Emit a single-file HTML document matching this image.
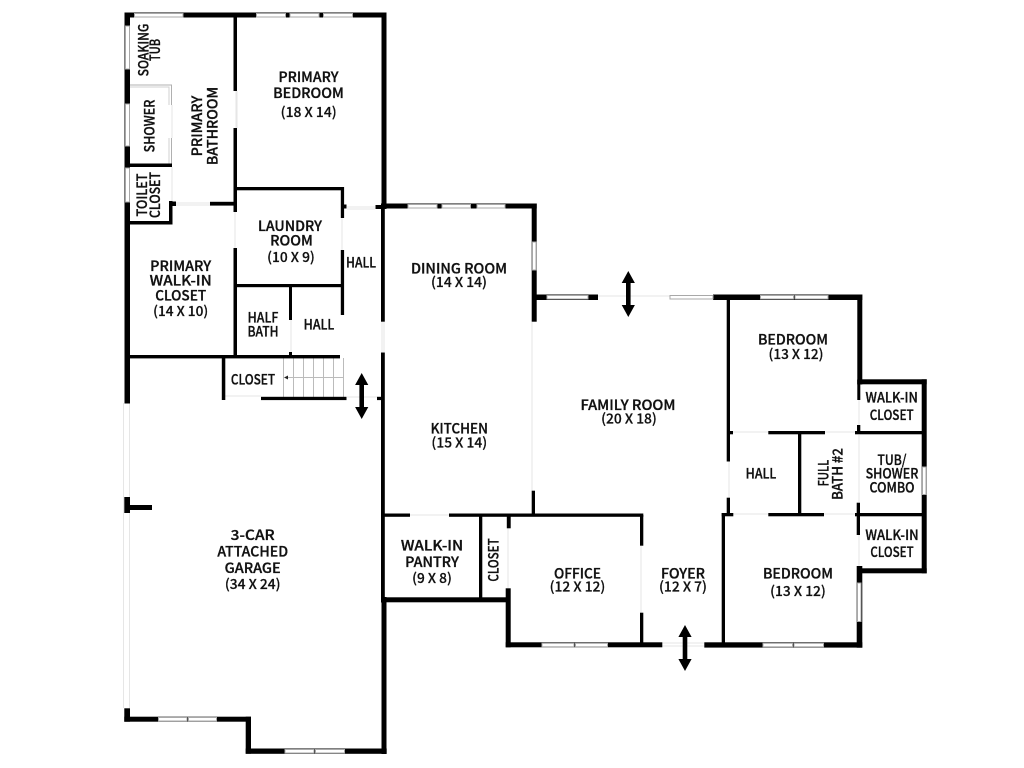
<!DOCTYPE html>
<html><head><meta charset="utf-8"><style>
html,body{margin:0;padding:0;background:#fff;width:1024px;height:768px;overflow:hidden}
svg{display:block}
text{font-family:"Noto Sans CJK JP","Liberation Sans",sans-serif;font-weight:500;font-size:14px;fill:#111;stroke:#111;stroke-width:.32px;text-anchor:middle}
.d{font-size:13.6px;stroke-width:.22px}
.w{fill:#fff;stroke:#a8a8a8;stroke-width:1}
.g{stroke:#e6e6e6;stroke-width:1;fill:none}
.s{stroke:#bbb;stroke-width:1;fill:none}
</style></head><body>
<svg width="1024" height="768" viewBox="0 0 1024 768" xmlns="http://www.w3.org/2000/svg">
<!-- faint door/opening lines -->
<g class="g">
<path d="M236 91V128M237 91V128M235 212V248M342 218V250M176 203H210M176 205H210M347 207H375M347 209H375"/>
<path d="M291 320V352M382 322V352M384 322V352M225 396H261M347 397H377"/>
<path d="M532 322V491M598 296H670M410 515H449"/>
<path d="M123.500 403V708M129.500 403V708"/>
<path d="M729 461V498M733 432H768M825 432H855M733 514H768M824 514H855M859 400V425M859 435V502M859 535V566"/>
<path d="M508 528V588M641 546V613M662 643H704M662 646H704"/>
<path d="M172 167V201M172 105V138"/>
</g>
<!-- stairs -->
<g class="s">
<path d="M283.500 358V397M293.500 358V397M303.500 358V397M313.500 358V397M323.500 358V397M333.500 358V397M343.500 358V397M286 377.500H343.500"/>
</g>
<polygon points="284,377.500 288,375.500 288,379.500" fill="#222"/>
<!-- shower -->
<g fill="#b0b0b0">
<rect x="130" y="84.500" width="42" height="1"/>
<rect x="130" y="86.500" width="39" height="1" fill="#d0d0d0"/>
<rect x="171" y="84.500" width="1" height="20.500"/>
<rect x="168.500" y="86.500" width="1" height="18.500" fill="#d0d0d0"/>
<rect x="168.500" y="138" width="1" height="26" fill="#d0d0d0"/>
<rect x="171" y="138" width="1" height="26"/>
</g>
<!-- walls -->
<g fill="#000">
<rect x="124.500" y="12.500" width="262" height="5"/>
<rect x="124.500" y="12.500" width="5.500" height="391"/>
<rect x="381.500" y="12.500" width="5" height="193"/>
<rect x="233.500" y="12.500" width="3.500" height="78.500"/>
<rect x="233.500" y="128" width="3.500" height="84"/>
<rect x="233.500" y="248" width="3.500" height="110"/>
<rect x="130" y="163.500" width="42" height="3.500"/>
<rect x="169" y="201" width="3.500" height="23"/>
<rect x="130" y="221" width="42.500" height="3.500"/>
<rect x="172" y="201.500" width="4" height="4.500"/>
<rect x="210" y="201.800" width="23.500" height="3.800"/>
<rect x="233.500" y="187" width="110.500" height="3.300"/>
<rect x="340.800" y="187" width="3.300" height="31"/>
<rect x="340.800" y="250" width="3.300" height="65"/>
<rect x="233.500" y="284" width="110" height="3.200"/>
<rect x="289" y="284" width="3" height="36"/>
<rect x="289" y="352" width="3" height="5"/>
<rect x="130" y="355" width="210" height="3.400"/>
<rect x="221.800" y="355" width="3.500" height="45"/>
<rect x="261" y="396.800" width="85.500" height="3.300"/>
<rect x="343" y="204.500" width="3.500" height="4"/>
<rect x="375.500" y="205" width="11" height="4"/>
<!-- central vertical -->
<rect x="381" y="203.500" width="3.800" height="118.200"/>
<rect x="381" y="352.500" width="3.800" height="250"/>
<rect x="381.500" y="597" width="5" height="157"/>
<rect x="377" y="396.800" width="6" height="3.300"/>
<!-- dining -->
<rect x="381" y="203.500" width="155.700" height="5"/>
<rect x="531.700" y="203.500" width="5" height="118.200"/>
<rect x="536" y="294.500" width="62" height="5.500"/>
<!-- kitchen/pantry -->
<rect x="381" y="513.500" width="29" height="3.300"/>
<rect x="449" y="513.500" width="194.300" height="3.300"/>
<rect x="531.700" y="490.700" width="3.300" height="24"/>
<rect x="479" y="515" width="3.300" height="83"/>
<rect x="381" y="597.300" width="129" height="5"/>
<rect x="506.800" y="515" width="3.900" height="13.300"/>
<rect x="505.700" y="588.300" width="5" height="59"/>
<rect x="640" y="515" width="3.300" height="30.700"/>
<rect x="640" y="612.700" width="3.300" height="31"/>
<rect x="505.700" y="642.300" width="156.600" height="5"/>
<!-- right wing -->
<rect x="713" y="294.500" width="149.300" height="5.500"/>
<rect x="726.700" y="294.500" width="3.300" height="167"/>
<rect x="726.700" y="497.700" width="3.300" height="17"/>
<rect x="857.300" y="294.500" width="5" height="90"/>
<rect x="857.300" y="380" width="3" height="20"/>
<rect x="857.300" y="379.300" width="69.400" height="5"/>
<rect x="921.700" y="379.300" width="5" height="194"/>
<rect x="857" y="568.300" width="69.700" height="5"/>
<rect x="727" y="431" width="6" height="3.300"/>
<rect x="768.300" y="431" width="56.700" height="3.300"/>
<rect x="855" y="431" width="68" height="3.300"/>
<rect x="857" y="425" width="3.300" height="9"/>
<rect x="798" y="431" width="3.300" height="84"/>
<rect x="721.700" y="513" width="11.600" height="3.300"/>
<rect x="768.300" y="513" width="55.700" height="3.300"/>
<rect x="855" y="513" width="68" height="3.300"/>
<rect x="856.700" y="502.700" width="3.300" height="32.300"/>
<rect x="856.700" y="566" width="5.600" height="81.700"/>
<rect x="721.700" y="513" width="3.300" height="131"/>
<rect x="704.300" y="642.300" width="158" height="5.300"/>
<!-- garage -->
<rect x="124.300" y="497" width="5.700" height="16"/>
<rect x="130" y="505" width="22" height="5"/>
<rect x="124.300" y="708.300" width="5.700" height="13.400"/>
<rect x="124.300" y="716.700" width="126.700" height="5"/>
<rect x="245.700" y="716.700" width="5.300" height="37"/>
<rect x="245.700" y="748.500" width="141" height="5.300"/>
</g>
<!-- windows -->
<g class="w">
<rect x="134.500" y="13.500" width="48.500" height="3.500"/>
<rect x="256.500" y="13.500" width="29" height="3.500"/><rect x="290" y="13.500" width="29" height="3.500"/><rect x="323.500" y="13.500" width="29" height="3.500"/>
<rect x="125.500" y="26" width="4" height="43"/>
<rect x="125.500" y="104" width="4" height="42"/>
<rect x="125.500" y="168" width="4" height="34"/>
<rect x="408" y="204.500" width="29" height="3.500"/><rect x="442" y="204.500" width="28.500" height="3.500"/><rect x="477" y="204.500" width="28" height="3.500"/>
<rect x="532.500" y="242" width="3.500" height="28"/>
<rect x="547" y="295.500" width="41" height="3.500"/>
<rect x="670" y="295.500" width="43" height="3.500"/>
<rect x="760.500" y="295.500" width="33" height="3.500"/><rect x="795" y="295.500" width="33" height="3.500"/>
<rect x="922.500" y="467" width="3.500" height="27.500"/>
<rect x="857.500" y="583" width="3.500" height="38.500"/>
<rect x="763" y="643.300" width="29.500" height="3.500"/><rect x="794" y="643.300" width="29.500" height="3.500"/>
<rect x="542" y="643.300" width="32" height="3.500"/><rect x="575.500" y="643.300" width="32" height="3.500"/>
<rect x="158.500" y="717.500" width="28.500" height="3.500"/><rect x="188.500" y="717.500" width="28" height="3.500"/>
<rect x="285" y="749.500" width="29" height="3.500"/><rect x="315.500" y="749.500" width="29" height="3.500"/>
</g>
<!-- arrows -->
<g fill="#000">
<polygon points="361.700,373 368.300,385 364,385 364,407 368.300,407 361.700,419 355.100,407 359.400,407 359.400,385 355.100,385"/>
<polygon points="628.300,271 634.900,283 630.600,283 630.600,305 634.900,305 628.300,317 621.700,305 626,305 626,283 621.700,283"/>
<polygon points="685,625 691.600,637 687.300,637 687.300,659 691.600,659 685,671 678.400,659 682.700,659 682.700,637 678.400,637"/>
</g>
<!-- labels -->
<g lengthAdjust="spacingAndGlyphs">
<text lengthAdjust="spacingAndGlyphs" textLength="60" x="308.500" y="82">PRIMARY</text><text lengthAdjust="spacingAndGlyphs" textLength="70.700" x="308.500" y="98">BEDROOM</text><text lengthAdjust="spacingAndGlyphs" textLength="56" class="d" x="308.700" y="117">(18 X 14)</text>
<text lengthAdjust="spacingAndGlyphs" textLength="52.700" transform="translate(148.300 50) rotate(-90)">SOAKING</text><text lengthAdjust="spacingAndGlyphs" textLength="22.300" transform="translate(160 50) rotate(-90)">TUB</text>
<text lengthAdjust="spacingAndGlyphs" textLength="52.700" transform="translate(154.300 126) rotate(-90)">SHOWER</text>
<text lengthAdjust="spacingAndGlyphs" textLength="60.700" transform="translate(202 126) rotate(-90)">PRIMARY</text><text lengthAdjust="spacingAndGlyphs" textLength="78.300" transform="translate(217.500 126) rotate(-90)">BATHROOM</text>
<text lengthAdjust="spacingAndGlyphs" textLength="43" transform="translate(147 195) rotate(-90)">TOILET</text><text lengthAdjust="spacingAndGlyphs" textLength="46" transform="translate(160 195) rotate(-90)">CLOSET</text>
<text lengthAdjust="spacingAndGlyphs" textLength="64" x="290" y="231">LAUNDRY</text><text lengthAdjust="spacingAndGlyphs" textLength="42.700" x="291.500" y="245.500">ROOM</text><text lengthAdjust="spacingAndGlyphs" textLength="47.700" class="d" x="291" y="262">(10 X 9)</text>
<text lengthAdjust="spacingAndGlyphs" textLength="30" x="361" y="267.500">HALL</text>
<text lengthAdjust="spacingAndGlyphs" textLength="61" x="180.700" y="271">PRIMARY</text><text lengthAdjust="spacingAndGlyphs" textLength="62" x="180.700" y="285.700">WALK-IN</text><text lengthAdjust="spacingAndGlyphs" textLength="51" x="180.700" y="300.500">CLOSET</text><text lengthAdjust="spacingAndGlyphs" textLength="55" class="d" x="180.700" y="316">(14 X 10)</text>
<text lengthAdjust="spacingAndGlyphs" textLength="30.700" x="263" y="322.300">HALF</text><text lengthAdjust="spacingAndGlyphs" textLength="31" x="263" y="336.700">BATH</text>
<text lengthAdjust="spacingAndGlyphs" textLength="30.700" x="319" y="329.300">HALL</text>
<text lengthAdjust="spacingAndGlyphs" textLength="44.300" x="253" y="384.300">CLOSET</text>
<text lengthAdjust="spacingAndGlyphs" textLength="96" x="459" y="273.300">DINING ROOM</text><text lengthAdjust="spacingAndGlyphs" textLength="56" class="d" x="459" y="287">(14 X 14)</text>
<text lengthAdjust="spacingAndGlyphs" textLength="57.300" x="459.300" y="433.300">KITCHEN</text><text lengthAdjust="spacingAndGlyphs" textLength="55.700" class="d" x="459.300" y="447.300">(15 X 14)</text>
<text lengthAdjust="spacingAndGlyphs" textLength="95" x="628" y="410">FAMILY ROOM</text><text lengthAdjust="spacingAndGlyphs" textLength="55.700" class="d" x="629" y="423.300">(20 X 18)</text>
<text lengthAdjust="spacingAndGlyphs" textLength="70" x="793" y="344.300">BEDROOM</text><text lengthAdjust="spacingAndGlyphs" textLength="55" class="d" x="796" y="359">(13 X 12)</text>
<text lengthAdjust="spacingAndGlyphs" textLength="52.300" x="891.700" y="402.700">WALK-IN</text><text lengthAdjust="spacingAndGlyphs" textLength="44" x="891.700" y="420">CLOSET</text>
<text lengthAdjust="spacingAndGlyphs" textLength="29" x="892" y="465">TUB/</text><text lengthAdjust="spacingAndGlyphs" textLength="52.700" x="892" y="478.300">SHOWER</text><text lengthAdjust="spacingAndGlyphs" textLength="45" x="892" y="492.300">COMBO</text>
<text lengthAdjust="spacingAndGlyphs" textLength="30.700" x="761" y="478.300">HALL</text>
<text lengthAdjust="spacingAndGlyphs" textLength="26.700" transform="translate(828.300 473) rotate(-90)">FULL</text><text lengthAdjust="spacingAndGlyphs" textLength="51.700" transform="translate(842.700 474) rotate(-90)">BATH #2</text>
<text lengthAdjust="spacingAndGlyphs" textLength="62.300" x="432" y="550.700">WALK-IN</text><text lengthAdjust="spacingAndGlyphs" textLength="53.700" x="432" y="567">PANTRY</text><text lengthAdjust="spacingAndGlyphs" textLength="39.700" class="d" x="432" y="583">(9 X 8)</text>
<text lengthAdjust="spacingAndGlyphs" textLength="43.300" transform="translate(498.300 560) rotate(-90)">CLOSET</text>
<text lengthAdjust="spacingAndGlyphs" textLength="47" x="577.500" y="578.300">OFFICE</text><text lengthAdjust="spacingAndGlyphs" textLength="55.700" class="d" x="577.500" y="591.700">(12 X 12)</text>
<text lengthAdjust="spacingAndGlyphs" textLength="44" x="683" y="578.300">FOYER</text><text lengthAdjust="spacingAndGlyphs" textLength="48" class="d" x="683" y="591.700">(12 X 7)</text>
<text lengthAdjust="spacingAndGlyphs" textLength="53.300" x="892" y="540">WALK-IN</text><text lengthAdjust="spacingAndGlyphs" textLength="43.300" x="892" y="557">CLOSET</text>
<text lengthAdjust="spacingAndGlyphs" textLength="70" x="798" y="578.300">BEDROOM</text><text lengthAdjust="spacingAndGlyphs" textLength="55.700" class="d" x="798" y="596">(13 X 12)</text>
<text lengthAdjust="spacingAndGlyphs" textLength="44" x="252.700" y="540">3-CAR</text><text lengthAdjust="spacingAndGlyphs" textLength="70.700" x="252.700" y="556.700">ATTACHED</text><text lengthAdjust="spacingAndGlyphs" textLength="56" x="252.700" y="573">GARAGE</text><text lengthAdjust="spacingAndGlyphs" textLength="55.700" class="d" x="252.700" y="589">(34 X 24)</text>
</g>
</svg>
</body></html>
